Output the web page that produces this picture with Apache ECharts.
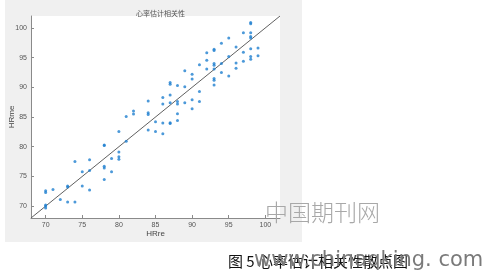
<!DOCTYPE html>
<html>
<head>
<meta charset="utf-8">
<script src="https://cdn.jsdelivr.net/npm/echarts@6/dist/echarts.min.js"></script>
<style>html,body{margin:0;padding:0;background:#fff}#c{width:493px;height:275px}</style>
</head>
<body>
<div id="c"></div>
<script>
// HRre (reference) and HRme (measured) heart-rate estimates
const hrRe = [
  70,70,70,70,70, 71, 72, 73,73,73, 74,74, 75,75, 76,76,76,
  78,78,78,78,78, 79,79, 80,80,80,80, 81,81, 82,82,
  84,84,84,84, 85,85, 86,86,86,86, 87,87,87,87,87,87,
  88,88,88,88,88, 89,89,89, 90,90,90,90, 91,91,91, 92,92,92,
  93,93,93,93,93,93,93,93, 94,94,94, 95,95,95, 96,96,96, 97,97,97,
  98,98,98,98,98,98,98,98, 99,99
];
const hrMe = [
  72.6,72.3,70.2,70.0,69.7, 72.8, 71.1, 73.4,73.2,70.7, 77.5,70.7, 75.8,73.4, 77.8,76.0,72.7,
  80.3,80.2,76.7,76.4,74.5, 78.0,75.8, 82.55,79.1,78.3,77.9, 85.1,80.9, 86.0,85.5,
  87.7,85.7,85.4,82.8, 84.2,82.55, 88.3,87.2,84.0,82.2, 90.8,90.5,88.7,87.4,84.05,83.9,
  90.3,87.6,87.2,85.55,84.4, 92.8,90.1,87.4, 92.2,91.4,87.9,86.4, 93.8,89.3,87.6, 95.8,94.55,93.1,
  96.4,96.2,94.0,93.7,93.1,91.5,91.2,90.4, 97.4,94.0,92.5, 98.3,95.2,91.9, 96.8,94.1,93.2, 99.2,95.9,94.4,
  100.9,100.7,99.2,98.55,98.3,96.5,95.2,94.7, 96.6,95.3
];
const axisRange = [68, 102];
const tickValues = [70, 75, 80, 85, 90, 95, 100];
const titleText = '心率估计相关性';
const xName = 'HRre';
const yName = 'HRme';
const captionText = '图 5 心率估计相关性散点图';
const watermarkText = '中国期刊网';
const watermarkUrl = 'www.chinaqking. com';

const points = hrRe.map((x, i) => [x, hrMe[i]]);
const chart = echarts.init(document.getElementById('c'), null, {renderer: 'canvas'});
const labelFont = {fontFamily: 'Liberation Sans, Arial, sans-serif', fontSize: 7, color: '#555'};
const axisCommon = {
  type: 'value', min: axisRange[0], max: axisRange[1],
  nameLocation: 'middle', nameMoveOverlap: false,
  nameTextStyle: {fontFamily: 'Liberation Sans, Arial, sans-serif', fontSize: 8, color: '#444'},
  axisLine: {show: true, lineStyle: {color: '#8a8a8a', width: 1}},
  axisTick: {show: true, inside: true, length: 3, customValues: tickValues, lineStyle: {color: '#8a8a8a'}},
  axisLabel: Object.assign({customValues: tickValues, margin: 4}, labelFont),
  splitLine: {show: false}
};
chart.setOption({
  animation: false,
  backgroundColor: '#fff',
  title: {
    text: titleText, left: 155.5, top: 5, textAlign: 'center',
    textStyle: {fontFamily: 'Noto Sans CJK SC', fontSize: 7, fontWeight: 'normal', color: '#555'}
  },
  grid: {left: 31, top: 16, right: 213, bottom: 57, show: true, backgroundColor: '#fff', borderWidth: 0,
         containLabel: false, outerBoundsMode: 'none'},
  xAxis: Object.assign({}, axisCommon, {name: xName, nameGap: 12}),
  yAxis: Object.assign({}, axisCommon, {name: yName, nameGap: 15}),
  graphic: [
    {type: 'rect', z: -10, silent: true, shape: {x: 5, y: 0, width: 297, height: 242}, style: {fill: '#f0f0f0'}},
    {type: 'text', z: 10, x: 265, y: 201, style: {text: watermarkText, fontFamily: 'Noto Sans CJK SC', fontWeight: 300, fontSize: 23, fill: '#a8a8a8'}},
    {type: 'text', z: 10, x: 228, y: 254, style: {text: captionText, fontFamily: 'Noto Sans CJK SC', fontSize: 15, fill: '#111'}},
    {type: 'text', z: 11, x: 254, y: 250, style: {text: watermarkUrl, fontFamily: 'DejaVu Sans', fontSize: 21, fill: '#7a7a7a'}}
  ],
  series: [
    {type: 'line', data: [[axisRange[0], axisRange[0]], [axisRange[1], axisRange[1]]], symbol: 'none',
     lineStyle: {color: '#606060', width: 1}, z: 3},
    {type: 'scatter', data: points, symbol: 'circle', symbolSize: 3, itemStyle: {color: '#1f7fcf'}, z: 4}
  ]
});
</script>
</body>
</html>
